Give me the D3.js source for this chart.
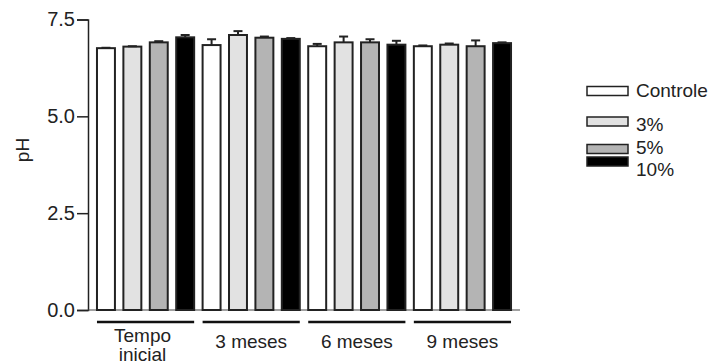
<!DOCTYPE html>
<html>
<head>
<meta charset="utf-8">
<script src="https://cdn.jsdelivr.net/npm/d3@7"></script>
<style>
  body { margin: 0; background: #fff; }
  text { font-family: Arial, "Liberation Sans", sans-serif; fill: #222; }
</style>
</head>
<body>
<svg id="chart" width="717" height="364"></svg>
<script>
const categories = ["Tempo inicial", "3 meses", "6 meses", "9 meses"];
const seriesNames = ["Controle", "3%", "5%", "10%"];
const controle = [6.76, 6.84, 6.81, 6.81];
const p3 = [6.80, 7.10, 6.91, 6.85];
const p5 = [6.91, 7.03, 6.91, 6.81];
const p10 = [7.04, 7.00, 6.85, 6.89];
const errControle = [0.01, 0.15, 0.06, 0.02];
const errP3 = [0.01, 0.10, 0.15, 0.03];
const errP5 = [0.03, 0.03, 0.08, 0.15];
const errP10 = [0.06, 0.02, 0.10, 0.02];
const yTicks = [0, 2.5, 5.0, 7.5];
const fills = ["#ffffff", "#e2e2e2", "#b4b4b4", "#000000"];

const values = [controle, p3, p5, p10];
const errs = [errControle, errP3, errP5, errP10];

const svg = d3.select("#chart");
const y = d3.scaleLinear().domain([0, 7.5]).range([310, 19.5]);
const x0 = d3.scaleBand().domain(categories).range([88, 520]).paddingInner(0).paddingOuter(0.045);
const x1 = d3.scaleBand().domain(seriesNames).range([0, x0.bandwidth()]).paddingInner(0.32).paddingOuter(0.16);

// y axis
const yAxis = d3.axisLeft(y).tickValues(yTicks).tickFormat(d3.format(".1f")).tickSize(11).tickPadding(2);
const gy = svg.append("g").attr("transform", "translate(88,0)").call(yAxis);
gy.select(".domain").attr("stroke", "#222").attr("stroke-width", 1.5);
gy.selectAll(".tick line").attr("stroke", "#222").attr("stroke-width", 1.5);
gy.selectAll(".tick text").style("font-size", "20px").style("font-family", "Arial, 'Liberation Sans', sans-serif").attr("fill", "#222");

// x baseline
svg.append("line").attr("x1", 88).attr("x2", 520).attr("y1", y(0)).attr("y2", y(0))
  .attr("stroke", "#444").attr("stroke-width", 1.2);

// bars
const rows = [];
categories.forEach((c, i) => seriesNames.forEach((s, j) => rows.push({c, s, j, v: values[j][i], e: errs[j][i]})));

const g = svg.append("g");
g.selectAll("rect.bar").data(rows).enter().append("rect")
  .attr("class", "bar")
  .attr("x", d => x0(d.c) + x1(d.s))
  .attr("y", d => y(d.v))
  .attr("width", x1.bandwidth())
  .attr("height", d => y(0) - y(d.v))
  .attr("fill", d => fills[d.j])
  .attr("stroke", "#222").attr("stroke-width", 2);

// error bars
const capW = 9;
g.selectAll("line.err").data(rows).enter().append("line")
  .attr("x1", d => x0(d.c) + x1(d.s) + x1.bandwidth() / 2)
  .attr("x2", d => x0(d.c) + x1(d.s) + x1.bandwidth() / 2)
  .attr("y1", d => y(d.v)).attr("y2", d => y(d.v + d.e))
  .attr("stroke", "#222").attr("stroke-width", 2);
g.selectAll("line.cap").data(rows).enter().append("line")
  .attr("x1", d => x0(d.c) + x1(d.s) + x1.bandwidth() / 2 - capW / 2)
  .attr("x2", d => x0(d.c) + x1(d.s) + x1.bandwidth() / 2 + capW / 2)
  .attr("y1", d => y(d.v + d.e)).attr("y2", d => y(d.v + d.e))
  .attr("stroke", "#222").attr("stroke-width", 2);

// group underlines and labels
categories.forEach(c => {
  const xa = x0(c) + x1(seriesNames[0]);
  const xb = x0(c) + x1(seriesNames[seriesNames.length - 1]) + x1.bandwidth();
  svg.append("line").attr("x1", xa).attr("x2", xb).attr("y1", 322).attr("y2", 322)
    .attr("stroke", "#111").attr("stroke-width", 2.5);
  const words = c === "Tempo inicial" ? ["Tempo", "inicial"] : [c];
  const cx = (xa + xb) / 2;
  if (words.length === 2) {
    svg.append("text").attr("x", cx - 3).attr("y", 342).attr("text-anchor", "middle").style("font-size", "19px").text(words[0]);
    svg.append("text").attr("x", cx - 3).attr("y", 361).attr("text-anchor", "middle").style("font-size", "19px").text(words[1]);
  } else {
    svg.append("text").attr("x", cx).attr("y", 348).attr("text-anchor", "middle").style("font-size", "19px").text(c);
  }
});

// y label
svg.append("text").attr("transform", "translate(29,150) rotate(-90)")
  .attr("text-anchor", "middle").style("font-size", "19px").text("pH");

// legend
const legBoxY = [91, 121.5, 149, 161.5];
const legTextY = [97, 131, 154, 176];
const leg = svg.append("g");
seriesNames.forEach((s, j) => {
  leg.append("rect").attr("x", 587).attr("y", legBoxY[j] - 4.5).attr("width", 41).attr("height", 9)
    .attr("fill", fills[j]).attr("stroke", "#222").attr("stroke-width", 1.5);
  leg.append("text").attr("x", 636).attr("y", legTextY[j]).style("font-size", "19px").text(s);
});
</script>
</body>
</html>
